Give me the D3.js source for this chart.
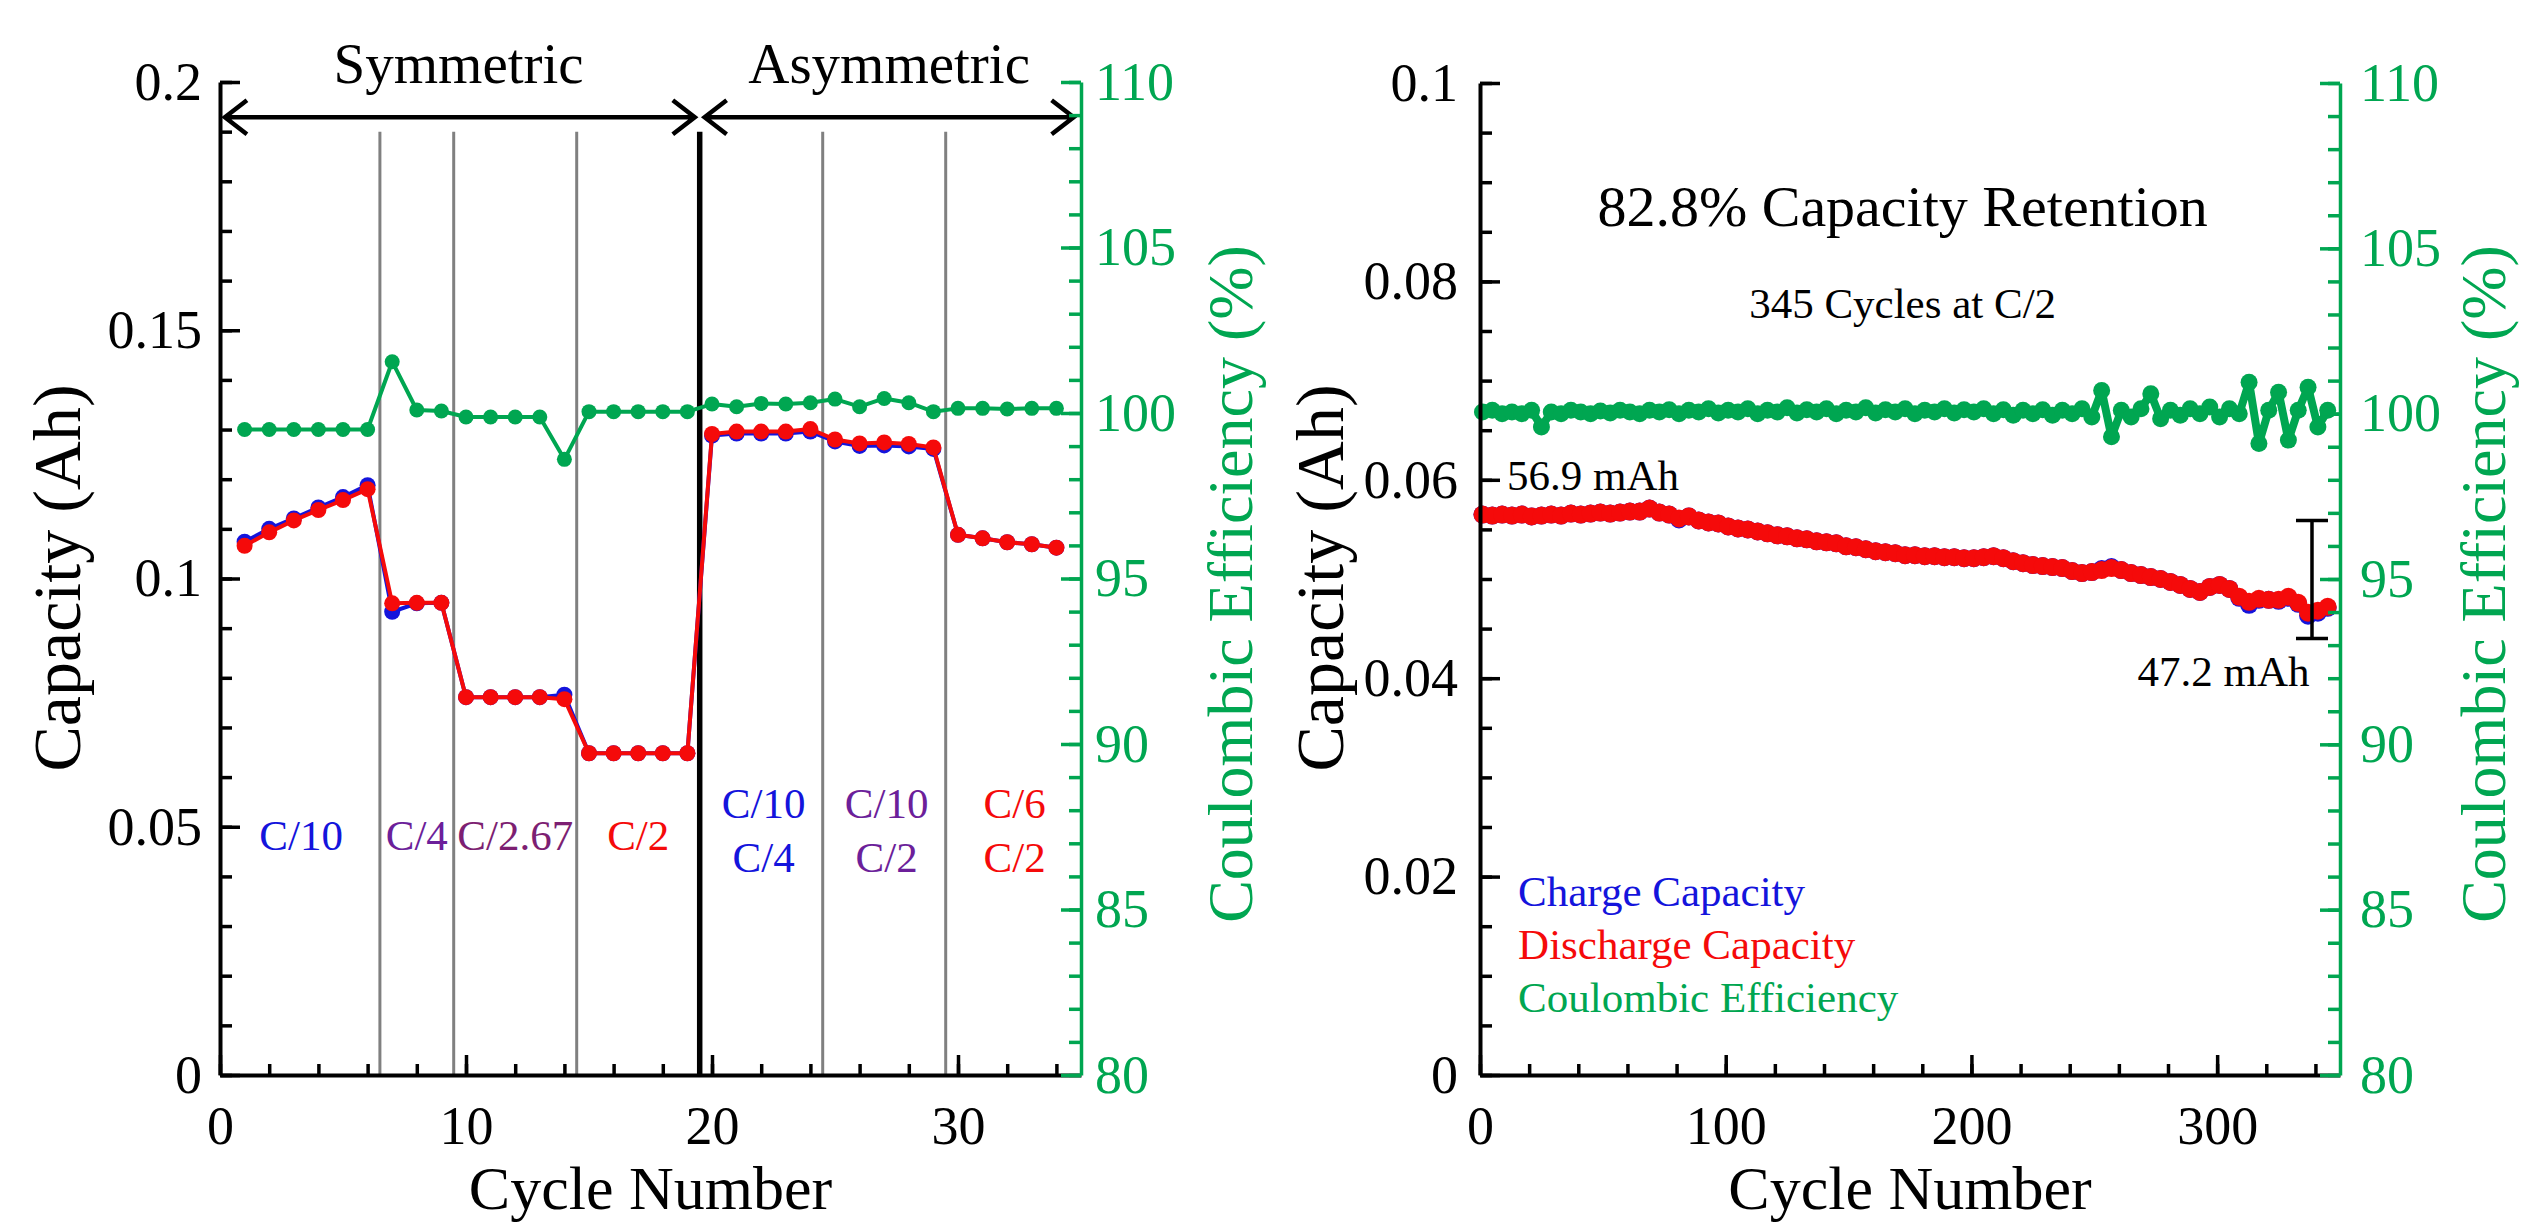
<!DOCTYPE html>
<html>
<head>
<meta charset="utf-8">
<script src="https://cdn.jsdelivr.net/npm/d3@7"></script>
<style>
  body { margin: 0; background: #fff; }
  svg { display: block; font-family: "Liberation Serif", "Times New Roman", serif; }
</style>
</head>
<body>
<svg id="chart" width="2523" height="1227"></svg>
<script>
'use strict';

// ---- left panel: rate test (34 cycles) ----
var rateCycles = [1,2,3,4,5,6,7,8,9,10,11,12,13,14,15,16,17,18,19,20,21,22,23,24,25,26,27,28,29,30,31,32,33,34];
var rateCharge = [0.1074,0.1100,0.1121,0.1143,0.1164,0.1188,0.0933,0.0950,0.0951,0.0761,0.0761,0.0761,0.0761,0.0766,
  0.0648,0.0648,0.0648,0.0648,0.0648,0.1288,0.1292,0.1292,0.1292,0.1296,0.1276,0.1267,0.1268,0.1266,0.1261,
  0.1088,0.1081,0.1073,0.1069,0.1062];
var rateDischarge = [0.1066,0.1093,0.1117,0.1138,0.1158,0.1180,0.0950,0.0951,0.0951,0.0761,0.0761,0.0761,0.0761,0.0757,
  0.0648,0.0648,0.0648,0.0648,0.0648,0.1291,0.1296,0.1296,0.1296,0.1301,0.1280,0.1272,0.1274,0.1271,0.1264,
  0.1088,0.1081,0.1073,0.1069,0.1062];
var rateCE = [99.5,99.5,99.5,99.5,99.5,99.5,101.55,100.09,100.06,99.88,99.88,99.88,99.88,98.6,
  100.04,100.04,100.04,100.04,100.04,100.27,100.19,100.29,100.27,100.31,100.42,100.19,100.44,100.31,100.04,
  100.14,100.14,100.12,100.14,100.14];

var rateDividers = [6.5, 9.5, 14.5, 24.5, 29.5];
var modeDivider = 19.5;
var modeNames = ['Symmetric', 'Asymmetric'];
var modeCentres = [9.7, 27.2];
var modeSpans = [[0.2, 19.3], [19.7, 34.7]];
var rateLabelText = [['C/10'], ['C/4'], ['C/2.67'], ['C/2'], ['C/10', 'C/4'], ['C/10', 'C/2'], ['C/6', 'C/2']];
var rateLabelCycle = [3.3, 8.0, 12.0, 17.0, 22.1, 27.1, 32.3];

var rateXTicks = [0, 10, 20, 30];
var rateYTicks = [0, 0.05, 0.1, 0.15, 0.2];
var ceTicks = [80, 85, 90, 95, 100, 105, 110];

var longCycles = d3.range(1, 346, 4);
var longDischarge = [0.0565,0.0564,0.0565,0.0564,0.0565,0.0563,0.0564,0.0565,0.0564,0.0566,
  0.0565,0.0566,0.0567,0.0566,0.0567,0.0568,0.0568,0.0571,0.0567,0.0565,
  0.0561,0.0563,0.0559,0.0557,0.0556,0.0553,0.0551,0.0550,0.0548,0.0546,
  0.0544,0.0543,0.0541,0.0540,0.0538,0.0537,0.0536,0.0533,0.0532,0.0530,
  0.0528,0.0527,0.0526,0.0524,0.0524,0.0523,0.0523,0.0522,0.0522,0.0521,
  0.0521,0.0522,0.0523,0.0521,0.0518,0.0516,0.0514,0.0513,0.0512,0.0511,
  0.0508,0.0506,0.0507,0.0509,0.0511,0.0509,0.0506,0.0504,0.0502,0.0500,
  0.0497,0.0494,0.0490,0.0487,0.0492,0.0494,0.0490,0.0482,0.0477,0.0480,
  0.0479,0.0479,0.0482,0.0476,0.0466,0.0468,0.0472];
var longCharge = [0.0565,0.0564,0.0565,0.0564,0.0565,0.0563,0.0564,0.0565,0.0564,0.0566,
  0.0565,0.0566,0.0567,0.0566,0.0567,0.0568,0.0568,0.0571,0.0567,0.0565,
  0.0560,0.0563,0.0559,0.0557,0.0556,0.0553,0.0551,0.0550,0.0548,0.0546,
  0.0544,0.0543,0.0541,0.0540,0.0538,0.0537,0.0536,0.0533,0.0532,0.0530,
  0.0528,0.0527,0.0526,0.0524,0.0524,0.0523,0.0523,0.0522,0.0522,0.0521,
  0.0521,0.0522,0.0523,0.0521,0.0518,0.0516,0.0514,0.0513,0.0512,0.0511,
  0.0508,0.0506,0.0507,0.0510,0.0512,0.0509,0.0506,0.0504,0.0502,0.0500,
  0.0497,0.0494,0.0490,0.0487,0.0492,0.0494,0.0490,0.0481,0.0474,0.0479,
  0.0479,0.0478,0.0481,0.0475,0.0463,0.0466,0.0471];
var longCE = [100.05,100.1,100.0,100.05,100.0,100.1,99.6,100.05,100.0,100.1,
  100.05,100.0,100.08,100.02,100.1,100.05,100.0,100.1,100.05,100.12,
  100.0,100.1,100.05,100.15,100.02,100.1,100.05,100.15,100.0,100.1,
  100.05,100.18,100.02,100.12,100.05,100.15,100.0,100.1,100.05,100.18,
  100.02,100.12,100.05,100.15,100.0,100.1,100.05,100.15,100.02,100.12,
  100.05,100.15,100.0,100.12,99.95,100.1,100.0,100.12,99.95,100.1,
  100.0,100.15,99.9,100.7,99.3,100.1,99.9,100.15,100.6,99.85,
  100.1,99.95,100.15,100.0,100.2,99.9,100.15,100.0,100.95,99.1,
  100.1,100.65,99.2,100.1,100.8,99.6,100.1];

var retentionCycle = 338.6;
var retentionRange = [0.0440, 0.0559];
var longXTicks = [0, 100, 200, 300];
var longYTicks = [0, 0.02, 0.04, 0.06, 0.08, 0.1];
var legendNames = ['Charge Capacity', 'Discharge Capacity', 'Coulombic Efficiency'];

var BLUE = '#1414dc', RED = '#f50a0a', GREEN = '#00a651', GREY = '#808080';
var PURPLE = '#6c1f9a', PLUM = '#7d1f72';
var TICK_FONT = 54;

var svg = d3.select('#chart');
svg.append('rect').attr('width', 2523).attr('height', 1227).attr('fill', '#fff');

function fmt(d) { return String(+d.toFixed(3)); }

// axes for one panel: black x + left y, green right y; all ticks point inward
function drawAxes(x, y, ce, o) {
  var x0 = x.range()[0], x1 = x.range()[1], yb = y.range()[0];

  var gx = svg.append('g').attr('transform', 'translate(0,' + yb + ')');
  gx.append('g').call(d3.axisBottom(x).tickValues(o.xMinor).tickSize(-11).tickSizeOuter(0).tickFormat(''))
    .select('.domain').remove();
  gx.append('g').call(d3.axisBottom(x).tickValues(o.xTicks).tickSize(-20).tickSizeOuter(0).tickPadding(31));

  var gy = svg.append('g').attr('transform', 'translate(' + x0 + ',0)');
  gy.append('g').call(d3.axisLeft(y).tickValues(o.yMinor).tickSize(-12).tickSizeOuter(0).tickFormat(''))
    .select('.domain').remove();
  gy.append('g').call(d3.axisLeft(y).tickValues(o.yTicks).tickSize(-20).tickSizeOuter(0)
    .tickPadding(o.yPad).tickFormat(fmt));

  var gc = svg.append('g').attr('transform', 'translate(' + x1 + ',0)');
  gc.append('g').call(d3.axisRight(ce).tickValues(d3.range(80, 111, 1)).tickSize(-12).tickSizeOuter(0).tickFormat(''))
    .select('.domain').remove();
  gc.append('g').call(d3.axisRight(ce).tickValues(ceTicks).tickSize(-20).tickSizeOuter(0).tickPadding(o.cePad));

  [gx, gy, gc].forEach(function(g) {
    // d3 puts sans-serif 10px on the axis group; drop it so the serif face applies
    g.selectAll('g').attr('font-family', null).attr('font-size', null);
  });
  [gx, gy].forEach(function(g) {
    g.selectAll('.domain').attr('stroke', '#000').attr('stroke-width', 4);
    g.selectAll('line').attr('stroke', '#000').attr('stroke-width', 3.5);
    g.selectAll('text').attr('fill', '#000');
  });
  gc.selectAll('.domain').attr('stroke', GREEN).attr('stroke-width', 3.5);
  gc.selectAll('line').attr('stroke', GREEN).attr('stroke-width', 3.5);
  gc.selectAll('text').attr('fill', GREEN);
  svg.selectAll('.tick text').attr('font-size', TICK_FONT);

  // axis titles
  svg.append('text').attr('x', (x0 + x1) / 2).attr('y', 1209).attr('text-anchor', 'middle')
    .attr('font-size', 62).text('Cycle Number');
  svg.append('text').attr('transform', 'translate(' + o.capTitleX + ',578) rotate(-90)')
    .attr('text-anchor', 'middle').attr('font-size', 68).text('Capacity (Ah)');
  svg.append('text').attr('transform', 'translate(' + o.ceTitleX + ',584) rotate(-90)')
    .attr('text-anchor', 'middle').attr('font-size', 64).attr('fill', GREEN).text('Coulombic Efficiency (%)');
}

function series(g, x, y, xs, ys, color, r, w) {
  var pts = xs.map(function(c, i) { return [c, ys[i]]; });
  g.append('path').datum(pts)
    .attr('fill', 'none').attr('stroke', color).attr('stroke-width', w).attr('stroke-linejoin', 'round')
    .attr('d', d3.line().x(function(d) { return x(d[0]); }).y(function(d) { return y(d[1]); }));
  g.selectAll(null).data(pts).enter().append('circle')
    .attr('cx', function(d) { return x(d[0]); })
    .attr('cy', function(d) { return y(d[1]); })
    .attr('r', r).attr('fill', color);
}

// ===== left panel =====
var xL = d3.scaleLinear().domain([0, 35]).range([220, 1081]);
var yL = d3.scaleLinear().domain([0, 0.2]).range([1075, 82]);
var ceL = d3.scaleLinear().domain([80, 110]).range([1075, 82]);

var left = svg.append('g');
left.selectAll('.divider').data(rateDividers).enter().append('line')
  .attr('x1', function(d) { return xL(d); }).attr('x2', function(d) { return xL(d); })
  .attr('y1', yL(0)).attr('y2', yL(0.19))
  .attr('stroke', GREY).attr('stroke-width', 3);
left.append('line')
  .attr('x1', xL(modeDivider)).attr('x2', xL(modeDivider))
  .attr('y1', yL(0)).attr('y2', yL(0.19))
  .attr('stroke', '#000').attr('stroke-width', 5.5);

// double-headed arrows for the two modes
var arrowY = yL(0.1929);
modeSpans.forEach(function(s) {
  var a = xL(s[0]), b = xL(s[1]);
  left.append('path')
    .attr('d', 'M' + a + ',' + arrowY + 'H' + b +
      'M' + (a + 22) + ',' + (arrowY - 17) + 'L' + a + ',' + arrowY + 'L' + (a + 22) + ',' + (arrowY + 17) +
      'M' + (b - 22) + ',' + (arrowY - 17) + 'L' + b + ',' + arrowY + 'L' + (b - 22) + ',' + (arrowY + 17))
    .attr('fill', 'none').attr('stroke', '#000').attr('stroke-width', 4.5);
});
modeNames.forEach(function(n, i) {
  left.append('text').attr('x', xL(modeCentres[i])).attr('y', 83)
    .attr('text-anchor', 'middle').attr('font-size', 57).text(n);
});

series(left, xL, yL, rateCycles, rateCharge, BLUE, 8, 4);
series(left, xL, yL, rateCycles, rateDischarge, RED, 8, 4);
series(left, xL, ceL, rateCycles, rateCE, GREEN, 7.5, 4);

var rateColors = [[BLUE], [PURPLE], [PLUM], [RED], [BLUE, BLUE], [PURPLE, PURPLE], [RED, RED]];
rateLabelText.forEach(function(lines, i) {
  var base = yL(0.0453) - (lines.length > 1 ? 32 : 0);
  lines.forEach(function(t, j) {
    left.append('text').attr('x', xL(rateLabelCycle[i])).attr('y', base + j * 54)
      .attr('text-anchor', 'middle').attr('font-size', 43).attr('fill', rateColors[i][j]).text(t);
  });
});

drawAxes(xL, yL, ceL, {
  xTicks: rateXTicks, xMinor: d3.range(0, 35, 2),
  yTicks: rateYTicks, yMinor: d3.range(0, 0.2001, 0.01),
  yPad: 18, cePad: 14, capTitleX: 80, ceTitleX: 1252
});

// ===== right panel =====
var xR = d3.scaleLinear().domain([0, 350]).range([1480, 2340]);
var yR = d3.scaleLinear().domain([0, 0.1]).range([1075, 83]);
var ceR = d3.scaleLinear().domain([80, 110]).range([1075, 83]);

var right = svg.append('g');
series(right, xR, yR, longCycles, longCharge, BLUE, 9, 8);
series(right, xR, yR, longCycles, longDischarge, RED, 9, 8);
series(right, xR, ceR, longCycles, longCE, GREEN, 8.5, 8);

// retention bar
var bx = xR(retentionCycle), bt = yR(retentionRange[1]), bb = yR(retentionRange[0]);
right.append('path')
  .attr('d', 'M' + bx + ',' + bt + 'V' + bb + 'M' + (bx - 16) + ',' + bt + 'H' + (bx + 16) +
    'M' + (bx - 16) + ',' + bb + 'H' + (bx + 16))
  .attr('fill', 'none').attr('stroke', '#000').attr('stroke-width', 3.5);

right.append('text').attr('x', xR(11)).attr('y', yR(0.0590)).attr('font-size', 43).text('56.9 mAh');
right.append('text').attr('x', xR(337.6)).attr('y', yR(0.0392)).attr('text-anchor', 'end')
  .attr('font-size', 43).text('47.2 mAh');
right.append('text').attr('x', xR(172)).attr('y', yR(0.0856)).attr('text-anchor', 'middle')
  .attr('font-size', 58).text('82.8% Capacity Retention');
right.append('text').attr('x', xR(172)).attr('y', yR(0.0763)).attr('text-anchor', 'middle')
  .attr('font-size', 43).text('345 Cycles at C/2');

[BLUE, RED, GREEN].forEach(function(c, i) {
  right.append('text').attr('x', xR(15.5)).attr('y', 906 + i * 53)
    .attr('font-size', 43).attr('fill', c).text(legendNames[i]);
});

drawAxes(xR, yR, ceR, {
  xTicks: longXTicks, xMinor: d3.range(0, 341, 20),
  yTicks: longYTicks, yMinor: d3.range(0, 0.1001, 0.005),
  yPad: 22, cePad: 20, capTitleX: 1343, ceTitleX: 2505
});
</script>
</body>
</html>
